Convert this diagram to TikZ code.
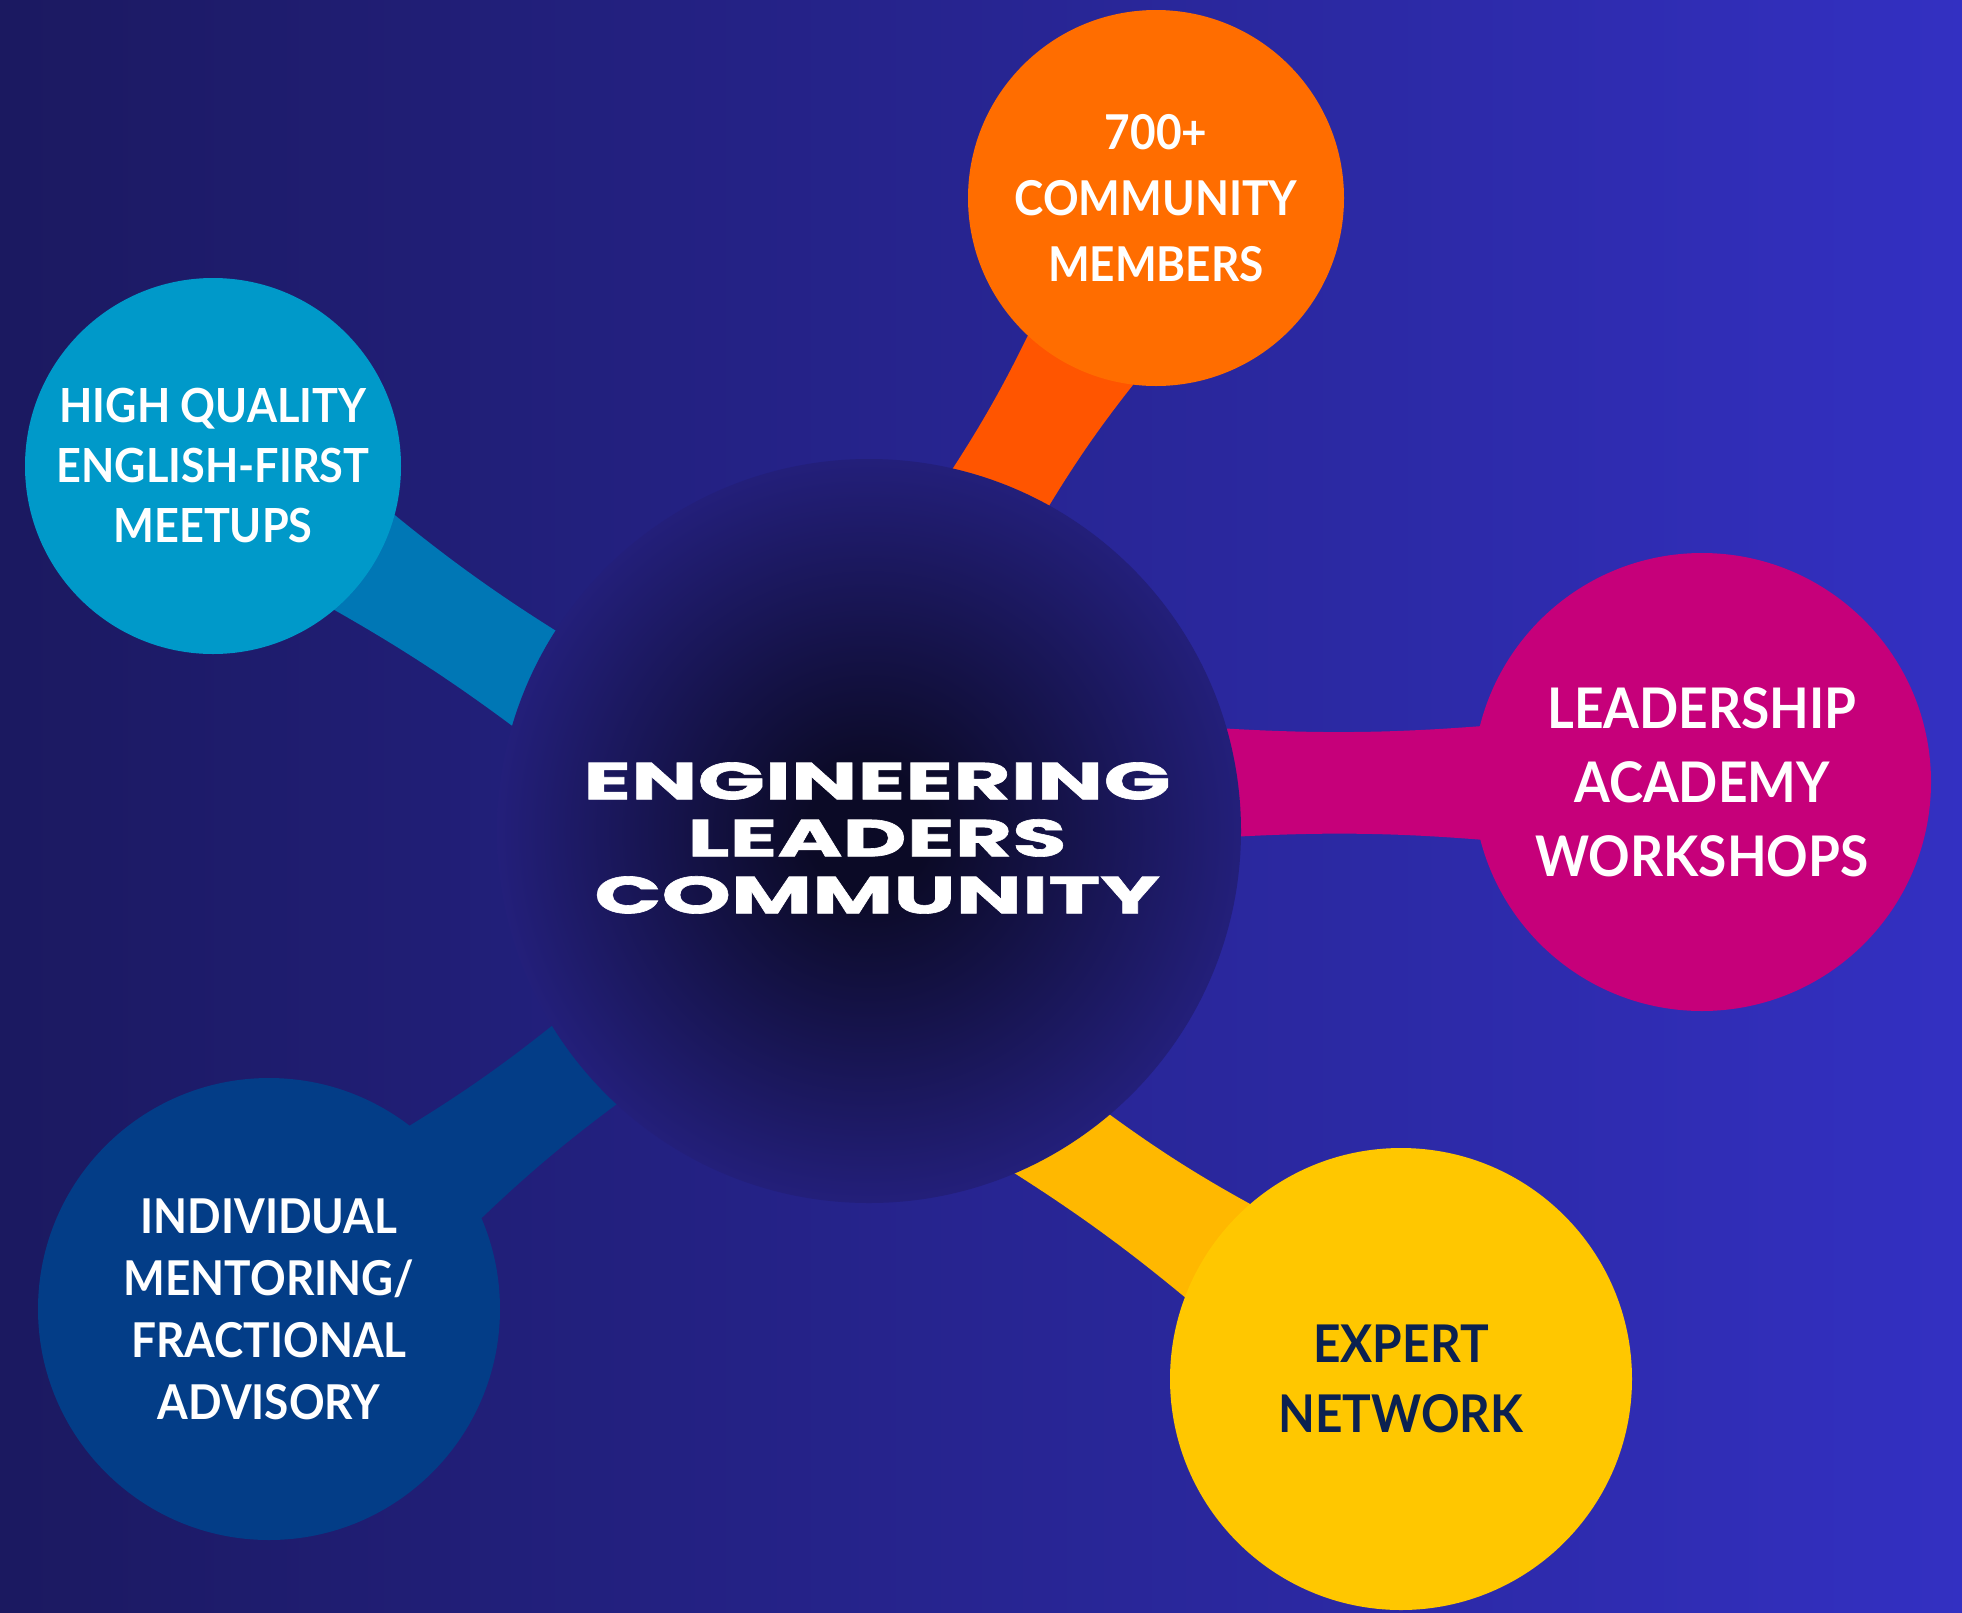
\documentclass[tikz,border=0pt]{standalone}
\usepackage{fontspec}
\setmainfont{Lato}[FakeStretch=0.92]
\newfontfamily\titlefont[FakeStretch=1.7, FakeBold=1.2]{Poppins}

\definecolor{bgleft}{HTML}{1B1960}
\definecolor{bgright}{HTML}{3330C2}
\definecolor{hubdark}{HTML}{0B0A26}
\definecolor{hubedge}{HTML}{2A2592}
\definecolor{orangefill}{HTML}{FF6D00}
\definecolor{orangeband}{HTML}{FF5500}
\definecolor{cyanfill}{HTML}{0099C9}
\definecolor{cyanband}{HTML}{0077B5}
\definecolor{pinkfill}{HTML}{C6007A}
\definecolor{navyfill}{HTML}{033D87}
\definecolor{goldfill}{HTML}{FFC700}
\definecolor{goldband}{HTML}{FFB800}
\definecolor{inktext}{HTML}{0B2150}

\pgfdeclareradialshading{hubglow}{\pgfpoint{0bp}{0bp}}{color(0bp)=(hubdark); color(4bp)=(hubdark); color(31bp)=(hubedge); color(50bp)=(hubedge)}

\begin{document}
\begin{tikzpicture}[
    % one unit is one pixel of the poster, y runs down
    x=1pt, y=-1pt,
    bubble/.style={circle, inner sep=0pt, text=white, align=center},
    hub/.style={circle, inner sep=0pt, shade, shading=hubglow},
    title/.style={text=white, align=center, font=\titlefont\bfseries\fontsize{52}{57}\selectfont},
  ]
  % background
  \shade[left color=bgleft, right color=bgright] (0,0) rectangle (1962,1612);
  \useasboundingbox (0,0) rectangle (1962,1612);

  % corners of the bands, given round each band counterclockwise
  \coordinate (o1) at (1052,284);  \coordinate (o2) at (921,516);
  \coordinate (o3) at (1023,550);  \coordinate (o4) at (1168,342);
  \coordinate (c1) at (617,668);   \coordinate (c2) at (340,469);
  \coordinate (c3) at (269,574);   \coordinate (c4) at (575,774);
  \coordinate (m1) at (1550,720);  \coordinate (m2) at (1160,724);
  \coordinate (m3) at (1170,841);  \coordinate (m4) at (1550,846);
  \coordinate (n1) at (598,988);   \coordinate (n2) at (355,1158);
  \coordinate (n3) at (436,1263);  \coordinate (n4) at (664,1070);
  \coordinate (g1) at (956,1137);  \coordinate (g2) at (1242,1346);
  \coordinate (g3) at (1303,1232); \coordinate (g4) at (1070,1085);

  % the bands go under the circles
  \foreach \p/\q/\r/\s/\col in {o1/o2/o3/o4/orangeband, c1/c2/c3/c4/cyanband,
                                 m1/m2/m3/m4/pinkfill, n1/n2/n3/n4/navyfill,
                                 g1/g2/g3/g4/goldband}
    \fill[\col] (\p) to[bend left=5] (\q) -- (\r) to[bend left=5] (\s) -- cycle;

  % centre
  \node[hub, minimum size=744pt] (hub) at (869,831) {};
  \node[title] (name) at (877,838) {ENGINEERING\\LEADERS\\COMMUNITY};

  % satellites
  \node[bubble, fill=orangefill, minimum size=376pt,
        font=\bfseries\fontsize{48}{66}\selectfont] (members) at (1156,198)
        {700+\\COMMUNITY\\MEMBERS};
  \node[bubble, fill=cyanfill, minimum size=376pt,
        font=\bfseries\fontsize{47}{60}\selectfont] (meetups) at (213,466)
        {HIGH QUALITY\\ENGLISH-FIRST\\MEETUPS};
  \node[bubble, fill=pinkfill, minimum size=458pt,
        font=\bfseries\fontsize{56}{74}\selectfont] (academy) at (1702,782)
        {LEADERSHIP\\ACADEMY\\WORKSHOPS};
  \node[bubble, fill=navyfill, minimum size=462pt,
        font=\bfseries\fontsize{48}{62}\selectfont] (mentoring) at (269,1309)
        {INDIVIDUAL\\MENTORING/\\FRACTIONAL\\ADVISORY};
  \node[bubble, fill=goldfill, text=inktext, minimum size=462pt,
        font=\bfseries\fontsize{52}{70}\selectfont] (experts) at (1401,1379)
        {EXPERT\\NETWORK};
\end{tikzpicture}
\end{document}
